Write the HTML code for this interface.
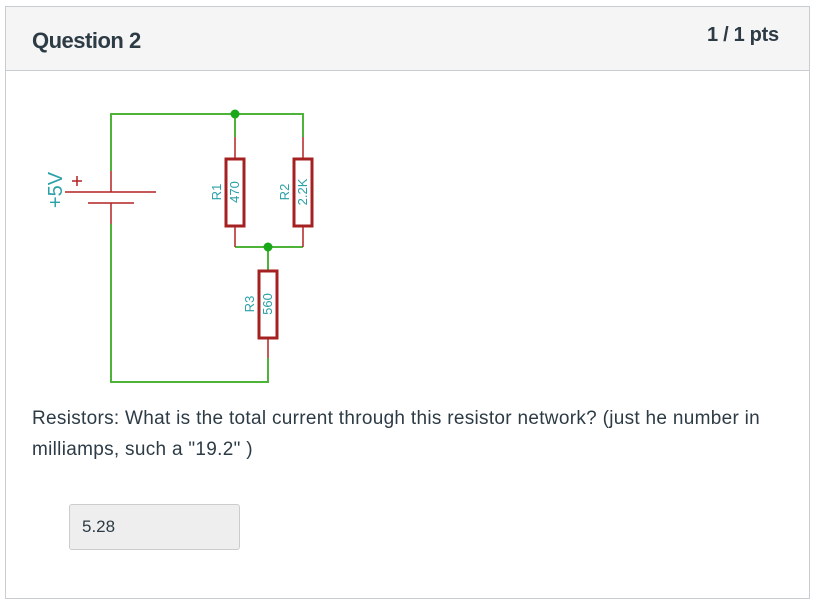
<!DOCTYPE html>
<html><head><style>
body{margin:0;width:813px;height:605px;background:#fff;position:relative;font-family:"Liberation Sans",sans-serif;overflow:hidden}
.card{position:absolute;left:5px;top:6px;width:805px;height:593px;border:1px solid #c7cdd1;box-sizing:border-box}
.hdr{position:absolute;left:0;top:0;right:0;height:63px;background:#f5f5f5;border-bottom:1px solid #c7cdd1}
.t{position:absolute;color:#2d3b45}
.box{position:absolute;left:69px;top:504px;width:171px;height:46px;background:#eeeeee;border:1px solid #ccc;border-radius:3px;box-sizing:border-box}
</style></head><body>
<div class="card"><div class="hdr"></div></div>
<div class="t" style="left:32px;top:28px;font-size:22px;font-weight:bold;letter-spacing:-0.5px">Question 2</div>
<div class="t" style="left:707px;top:24px;font-size:20px;font-weight:bold;letter-spacing:-0.3px">1 / 1 pts</div>
<svg style="position:absolute;left:0;top:0" width="813" height="605">
<g fill="none" stroke="#4db339" stroke-width="2">
<polyline points="111,171 111,114 303,114 303,137"/>
<line x1="235" y1="114" x2="235" y2="137"/>
<polyline points="111,224 111,382 268,382 268,358"/>
<polyline points="235,247 303,247"/>
<line x1="268" y1="247" x2="268" y2="270"/>
</g>
<g fill="#1aa81a"><circle cx="235" cy="114" r="4.5"/><circle cx="268" cy="247" r="4.5"/></g>
<g stroke="#b22222" fill="none" stroke-width="1.5">
<line x1="111" y1="171" x2="111" y2="192"/><line x1="111" y1="203" x2="111" y2="224"/>
<line x1="65" y1="192" x2="156" y2="192"/><line x1="88" y1="203" x2="134" y2="203"/>
<line x1="72" y1="181" x2="82" y2="181"/><line x1="77" y1="176" x2="77" y2="186"/>
<line x1="235" y1="137" x2="235" y2="158"/><line x1="235" y1="226" x2="235" y2="247"/>
<line x1="303" y1="137" x2="303" y2="158"/><line x1="303" y1="226" x2="303" y2="247"/>
<line x1="268" y1="338" x2="268" y2="358"/>
</g>
<g stroke="#a52020" fill="none" stroke-width="3">
<rect x="226" y="159" width="18" height="67"/>
<rect x="294" y="159" width="18" height="67"/>
<rect x="259" y="271" width="18" height="67"/>
</g>
<g fill="#2aa0a8" font-family="Liberation Sans,sans-serif" text-anchor="middle">
<text transform="translate(62,190) rotate(-90)" font-size="20">+5V</text>
<text transform="translate(221,192) rotate(-90)" font-size="13">R1</text>
<text transform="translate(239,192) rotate(-90)" font-size="13">470</text>
<text transform="translate(289,192) rotate(-90)" font-size="13">R2</text>
<text transform="translate(307,192) rotate(-90)" font-size="13">2.2K</text>
<text transform="translate(254,304) rotate(-90)" font-size="13">R3</text>
<text transform="translate(272,304) rotate(-90)" font-size="13">560</text>
</g>
</svg>
<div class="t" style="left:32px;top:403px;font-size:19px;letter-spacing:0.3px;line-height:31px;width:745px">Resistors: What is the total current through this resistor network? (just he number in milliamps, such a "19.2" )</div>
<div class="box"></div>
<div class="t" style="left:82px;top:517px;font-size:17px">5.28</div>
</body></html>
